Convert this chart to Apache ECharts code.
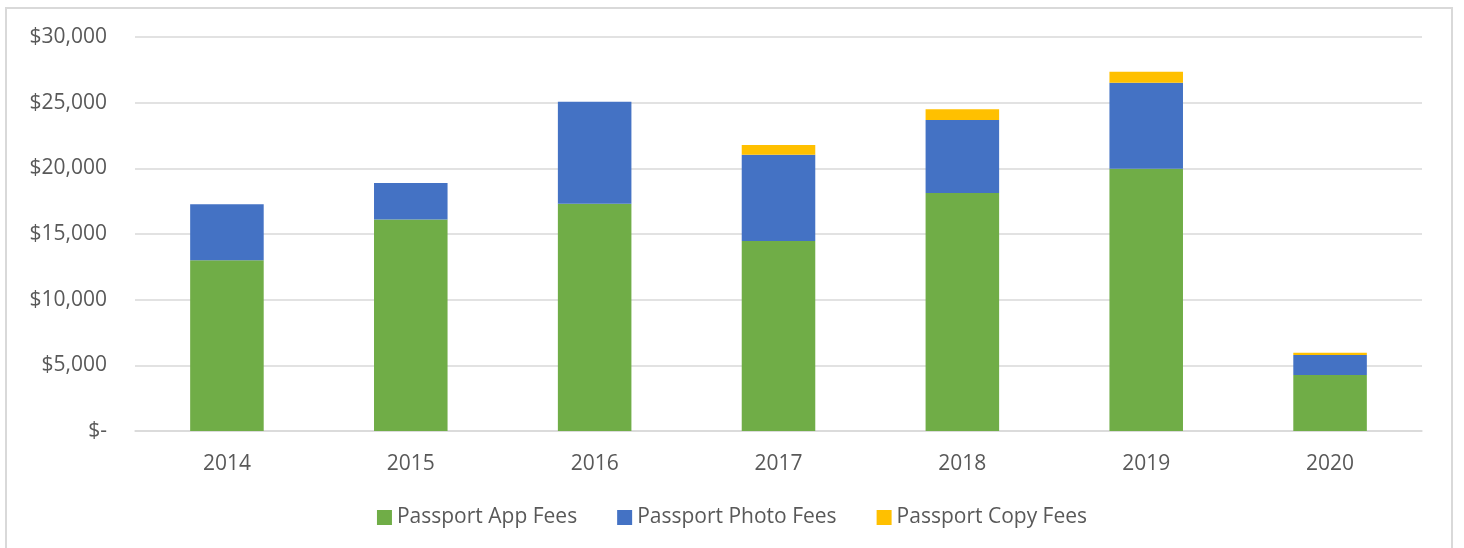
<!DOCTYPE html>
<html>
<head>
<meta charset="utf-8">
<script src="https://cdn.jsdelivr.net/npm/echarts@6/dist/echarts.min.js"></script>
<style>
html,body{margin:0;padding:0;background:#fff;}
#chart{width:1464px;height:548px;}
</style>
</head>
<body>
<div id="chart"></div>
<script>
const years = ['2014', '2015', '2016', '2017', '2018', '2019', '2020'];
const appFees = [13000, 16100, 17300, 14470, 18120, 19970, 4260];
const photoFees = [4260, 2780, 7770, 6570, 5560, 6550, 1530];
const copyFees = [0, 0, 0, 740, 810, 840, 170];
const yTicks = { min: 0, max: 30000, interval: 5000 };

const chart = echarts.init(document.getElementById('chart'), null, { renderer: 'canvas' });
const font = '"Open Sans", sans-serif';
const textColor = '#595959';
const gridColor = '#d9d9d9';

chart.setOption({
  animation: false,
  backgroundColor: '#fff',
  graphic: [{
    type: 'rect',
    shape: { x: 6, y: 8, width: 1446, height: 600 },
    style: { fill: 'none', stroke: gridColor, lineWidth: 2 },
    silent: true
  }],
  grid: { left: 135, right: 42, top: 37, bottom: 117, containLabel: false },
  legend: {
    top: 502,
    left: 'center',
    itemWidth: 15,
    itemHeight: 15,
    itemGap: 40,
    icon: 'rect',
    textStyle: { fontFamily: font, fontSize: 21, color: textColor },
    data: ['Passport App Fees', 'Passport Photo Fees', 'Passport Copy Fees']
  },
  xAxis: {
    type: 'category',
    data: years,
    axisLine: { show: true, lineStyle: { color: gridColor, width: 1.5 } },
    axisTick: { show: false },
    axisLabel: { fontFamily: font, fontSize: 21, color: textColor, margin: 23 }
  },
  yAxis: {
    type: 'value',
    min: yTicks.min,
    max: yTicks.max,
    interval: yTicks.interval,
    axisLine: { show: false },
    axisTick: { show: false },
    splitLine: { lineStyle: { color: gridColor, width: 1.5 } },
    axisLabel: {
      fontFamily: font, fontSize: 21, color: textColor, margin: 28,
      formatter: v => v === 0 ? '$-' : '$' + v.toLocaleString('en-US')
    }
  },
  series: [
    { name: 'Passport App Fees', type: 'bar', stack: 'fees', data: appFees, barWidth: '40%', itemStyle: { color: '#70ad47' } },
    { name: 'Passport Photo Fees', type: 'bar', stack: 'fees', data: photoFees, itemStyle: { color: '#4472c4' } },
    { name: 'Passport Copy Fees', type: 'bar', stack: 'fees', data: copyFees, itemStyle: { color: '#ffc000' } }
  ]
});
</script>
</body>
</html>
